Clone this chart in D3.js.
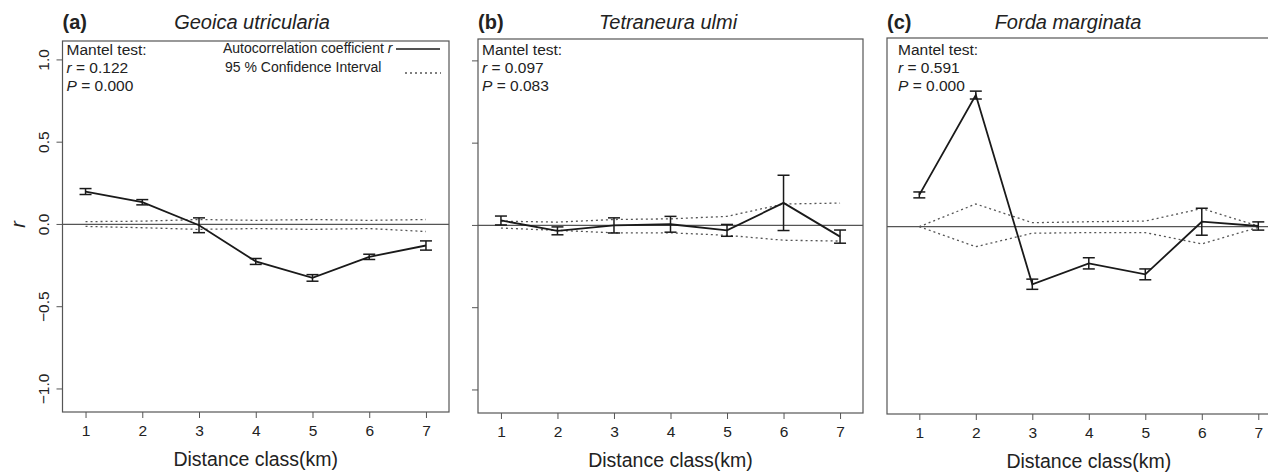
<!DOCTYPE html>
<html>
<head>
<meta charset="utf-8">
<script src="https://cdn.jsdelivr.net/npm/d3@7"></script>
<style>
  body { margin: 0; background: #fff; }
  text { font-family: "Liberation Sans", Arial, sans-serif; fill: #222; }
</style>
</head>
<body>
<svg id="chart"></svg>
<script>
// set width and height of graphic
var width = 1268,
    height = 473;

// distance classes (km)
var classes = [1, 2, 3, 4, 5, 6, 7];
var yTicks = [-1.0, -0.5, 0.0, 0.5, 1.0];

// (a) Geoica utricularia
var rA = [0.20, 0.135, -0.005, -0.225, -0.325, -0.197, -0.128];
var errA = [0.018, 0.016, 0.045, 0.018, 0.02, 0.016, 0.028];
var upA = [0.017, 0.02, 0.03, 0.025, 0.03, 0.025, 0.03];
var loA = [-0.012, -0.02, -0.03, -0.025, -0.03, -0.025, -0.043];

// (b) Tetraneura ulmi
var rB = [0.03, -0.033, 0.0, 0.007, -0.03, 0.137, -0.068];
var errB = [0.027, 0.024, 0.046, 0.048, 0.036, 0.168, 0.04];
var upB = [0.026, 0.02, 0.036, 0.04, 0.055, 0.13, 0.136];
var loB = [-0.016, -0.03, -0.045, -0.045, -0.06, -0.09, -0.095];

// (c) Forda marginata
var rC = [0.193, 0.80, -0.35, -0.223, -0.29, 0.03, 0.004];
var errC = [0.018, 0.024, 0.031, 0.034, 0.033, 0.082, 0.025];
var upC = [0.0, 0.138, 0.024, 0.03, 0.034, 0.11, 0.004];
var loC = [0.0, -0.122, -0.04, -0.036, -0.036, -0.105, -0.004];

var panels = [
  { tag: "(a)", title: "Geoica utricularia", mantel: ["0.122", "0.000"],
    r: rA, err: errA, up: upA, lo: loA,
    left: 62.5, right: 449, top: 41, bottom: 412,
    xdom: [0.594, 7.406], ydom: [-1.14, 1.115],
    titleX: 252, textDx: 4, yLabels: true, yTicks: true, legend: true, xTitleY: 466 },
  { tag: "(b)", title: "Tetraneura ulmi", mantel: ["0.097", "0.083"],
    r: rB, err: errB, up: upB, lo: loB,
    left: 478, right: 863, top: 39, bottom: 413,
    xdom: [0.594, 7.406], ydom: [-1.14, 1.133],
    titleX: 668, textDx: 4, yLabels: false, yTicks: true, legend: false, xTitleY: 467 },
  { tag: "(c)", title: "Forda marginata", mantel: ["0.591", "0.000"],
    r: rC, err: errC, up: upC, lo: loC,
    left: 887, right: 1290.6, top: 38, bottom: 414,
    xdom: [0.428, 7.572], ydom: [-1.139, 1.147],
    titleX: 1068, textDx: 11, yLabels: false, yTicks: false, legend: false, xTitleY: 468 }
];

var svg = d3.select("#chart")
    .attr("width", width)
    .attr("height", height);

svg.append("rect")
    .attr("width", width)
    .attr("height", height)
    .attr("fill", "#fff");

panels.forEach(function(p) {
  var x = d3.scaleLinear().domain(p.xdom).range([p.left, p.right]);
  var y = d3.scaleLinear().domain(p.ydom).range([p.bottom, p.top]);

  var g = svg.append("g");

  // zero reference line
  g.append("line")
      .attr("x1", p.left).attr("x2", p.right)
      .attr("y1", y(0)).attr("y2", y(0))
      .attr("stroke", "#555").attr("stroke-width", 1.2);

  // confidence interval (dotted)
  var line = d3.line()
      .x(function(d, i) { return x(classes[i]); })
      .y(function(d) { return y(d); });

  [p.up, p.lo].forEach(function(ci) {
    g.append("path")
        .attr("d", line(ci))
        .attr("fill", "none")
        .attr("stroke", "#555")
        .attr("stroke-width", 1.3)
        .attr("stroke-dasharray", "2,3");
  });

  // autocorrelation line
  g.append("path")
      .attr("d", line(p.r))
      .attr("fill", "none")
      .attr("stroke", "#1a1a1a")
      .attr("stroke-width", 1.8);

  // error bars
  var bars = g.selectAll(".bar")
      .data(p.r)
      .enter().append("g")
      .attr("class", "bar")
      .attr("stroke", "#1a1a1a")
      .attr("stroke-width", 1.5);

  bars.append("line")
      .attr("x1", function(d, i) { return x(classes[i]); })
      .attr("x2", function(d, i) { return x(classes[i]); })
      .attr("y1", function(d, i) { return y(d + p.err[i]); })
      .attr("y2", function(d, i) { return y(d - p.err[i]); });

  [1, -1].forEach(function(s) {
    bars.append("line")
        .attr("x1", function(d, i) { return x(classes[i]) - 6; })
        .attr("x2", function(d, i) { return x(classes[i]) + 6; })
        .attr("y1", function(d, i) { return y(d + s * p.err[i]); })
        .attr("y2", function(d, i) { return y(d + s * p.err[i]); });
  });

  // plot box
  g.append("rect")
      .attr("x", p.left).attr("y", p.top)
      .attr("width", p.right - p.left)
      .attr("height", p.bottom - p.top)
      .attr("fill", "none")
      .attr("stroke", "#555")
      .attr("stroke-width", 1.2);

  // x axis
  var xAxis = g.append("g")
      .attr("transform", "translate(0," + p.bottom + ")")
      .call(d3.axisBottom(x).tickValues(classes).tickSize(6).tickPadding(7).tickFormat(d3.format("d")));
  xAxis.select(".domain").remove();
  xAxis.selectAll("line").attr("stroke", "#555");
  xAxis.selectAll("text")
      .attr("font-size", 15.5)
      .attr("font-family", "Liberation Sans, Arial, sans-serif")
      .attr("fill", "#222");

  g.append("text")
      .attr("x", (x(1) + x(7)) / 2)
      .attr("y", p.xTitleY)
      .attr("text-anchor", "middle")
      .attr("font-size", 19.5)
      .text("Distance class(km)");

  // y axis ticks
  if (p.yTicks) {
    g.selectAll(".ytick")
        .data(yTicks)
        .enter().append("line")
        .attr("x1", p.left - 6).attr("x2", p.left)
        .attr("y1", function(d) { return y(d); })
        .attr("y2", function(d) { return y(d); })
        .attr("stroke", "#555");
  }
  if (p.yLabels) {
    g.selectAll(".ylab")
        .data(yTicks)
        .enter().append("text")
        .attr("transform", function(d) { return "translate(" + (p.left - 14) + "," + y(d) + ") rotate(-90)"; })
        .attr("text-anchor", "middle")
        .attr("font-size", 15.5)
        .text(function(d) { return d3.format(".1f")(d).replace("-", "\u2212"); });

    g.append("text")
        .attr("transform", "translate(25," + y(0) + ") rotate(-90)")
        .attr("text-anchor", "middle")
        .attr("font-size", 20)
        .attr("font-style", "italic")
        .text("r");
  }

  // panel tag and species title
  g.append("text")
      .attr("x", p.left)
      .attr("y", 29)
      .attr("font-size", 20)
      .attr("font-weight", "bold")
      .text(p.tag);

  g.append("text")
      .attr("x", p.titleX)
      .attr("y", 29)
      .attr("text-anchor", "middle")
      .attr("font-size", 20)
      .attr("font-style", "italic")
      .text(p.title);

  // mantel test text
  var tx = p.left + p.textDx;
  g.append("text")
      .attr("x", tx).attr("y", 55)
      .attr("font-size", 15.5)
      .text("Mantel test:");

  var t1 = g.append("text")
      .attr("x", tx).attr("y", 73)
      .attr("font-size", 15.5);
  t1.append("tspan").attr("font-style", "italic").text("r");
  t1.append("tspan").text(" = " + p.mantel[0]);

  var t2 = g.append("text")
      .attr("x", tx).attr("y", 91)
      .attr("font-size", 15.5);
  t2.append("tspan").attr("font-style", "italic").text("P");
  t2.append("tspan").text(" = " + p.mantel[1]);

  // legend
  if (p.legend) {
    var l1 = g.append("text")
        .attr("x", 223).attr("y", 53)
        .attr("font-size", 14);
    l1.append("tspan").text("Autocorrelation coefficient ");
    l1.append("tspan").attr("font-style", "italic").text("r");

    g.append("line")
        .attr("x1", 396).attr("x2", 440)
        .attr("y1", 49).attr("y2", 49)
        .attr("stroke", "#1a1a1a").attr("stroke-width", 1.6);

    g.append("text")
        .attr("x", 225).attr("y", 72)
        .attr("font-size", 14)
        .text("95 % Confidence Interval");

    g.append("line")
        .attr("x1", 405).attr("x2", 441)
        .attr("y1", 73).attr("y2", 73)
        .attr("stroke", "#555").attr("stroke-width", 1.3)
        .attr("stroke-dasharray", "2,3");
  }
});
</script>
</body>
</html>
